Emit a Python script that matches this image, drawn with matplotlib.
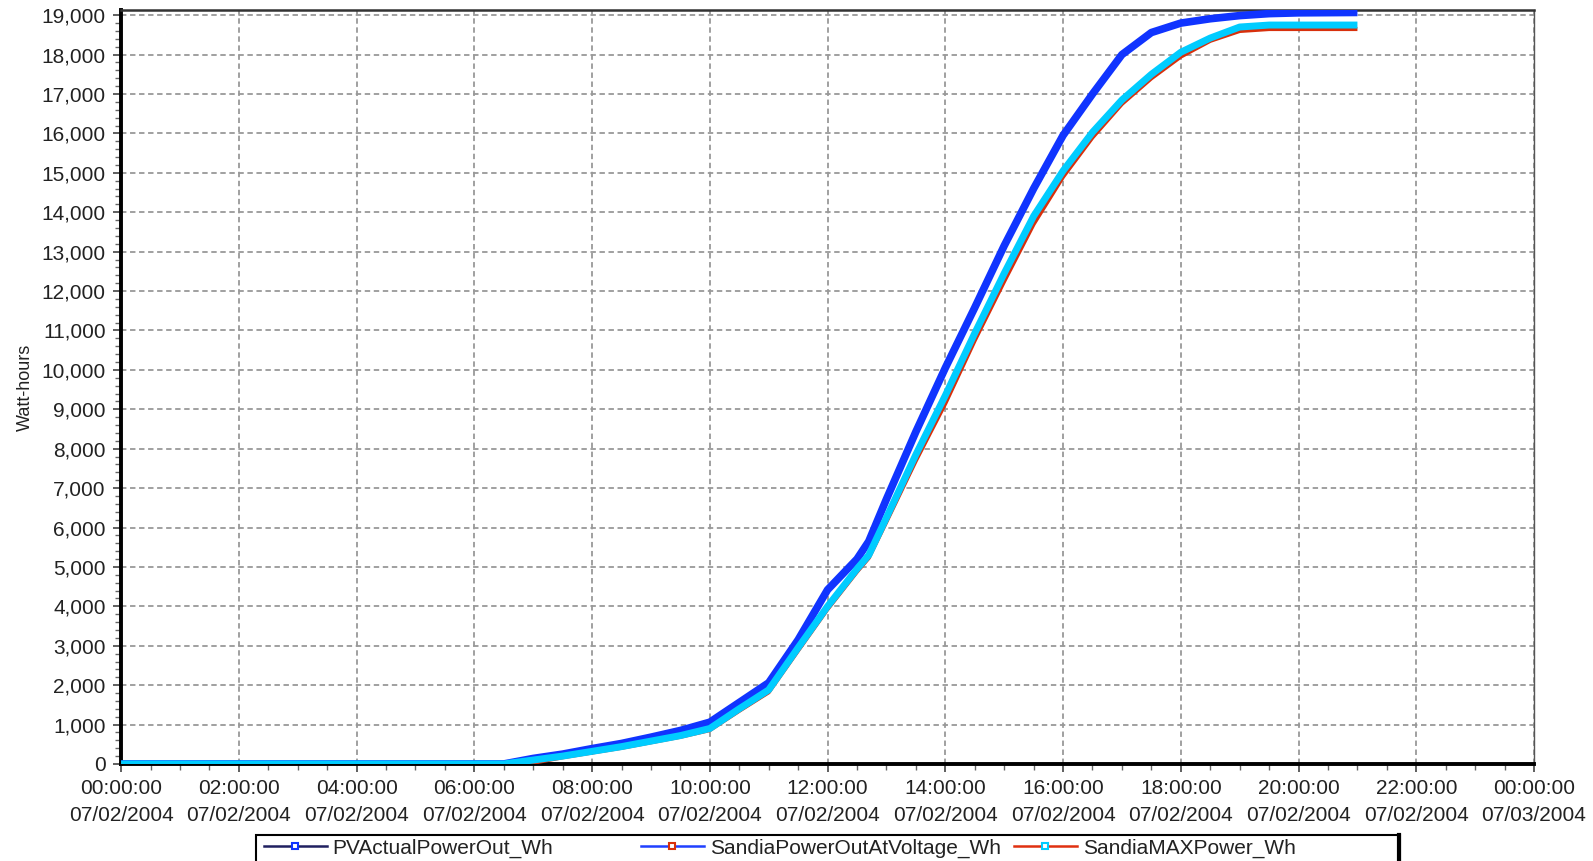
import datetime as dt
import matplotlib
matplotlib.use("Agg")
import matplotlib.pyplot as plt
import matplotlib.dates as mdates
from matplotlib.ticker import MultipleLocator, FuncFormatter
from matplotlib.lines import Line2D
from matplotlib.patches import Rectangle

plt.rcParams['font.family'] = ['Liberation Sans', 'DejaVu Sans']

# hours after midnight on 07/02/2004
hours = [0, 6.5, 7, 7.5, 8, 8.5, 9, 9.5, 10, 10.5, 11, 11.5, 12, 12.5, 12.7,
         13, 13.5, 14, 14.5, 15, 15.5, 16, 16.5, 17, 17.5, 18, 18.5, 19, 19.5, 20, 21]

pv_actual_wh = [0, 0, 140, 250, 390, 520, 680, 850, 1060, 1560, 2060, 3150, 4420, 5200, 5650,
                6720, 8430, 10050, 11580, 13150, 14600, 15950, 17000, 18000, 18560, 18800,
                18910, 18990, 19040, 19060, 19070]
sandia_max_wh = [0, 0, 100, 200, 320, 440, 580, 720, 900, 1400, 1880, 2950, 4000, 4950, 5300,
                 6250, 7850, 9350, 10930, 12450, 13900, 15050, 16030, 16850, 17500, 18060,
                 18420, 18700, 18750, 18750, 18750]
sandia_volt_wh = [0, 0, 30, 170, 290, 410, 550, 690, 860, 1350, 1820, 2880, 3930, 4880, 5230,
                  6150, 7700, 9150, 10750, 12250, 13700, 14900, 15900, 16750, 17400, 17950,
                  18350, 18600, 18650, 18650, 18650]

legend_labels = ['PVActualPowerOut_Wh', 'SandiaPowerOutAtVoltage_Wh', 'SandiaMAXPower_Wh']

day = dt.datetime(2004, 7, 2)
times = [day + dt.timedelta(hours=h) for h in hours]

fig = plt.figure(figsize=(15.93, 8.61), dpi=100)
ax = fig.add_axes([0.076, 0.1127, 0.887, 0.8756])

# curves
ax.plot(times, pv_actual_wh, color='#1034FF', lw=5.5, solid_capstyle='butt', zorder=3)
ax.plot(times, sandia_volt_wh, color='#D8300C', lw=3, solid_capstyle='butt', zorder=4)
ax.plot(times, sandia_max_wh, color='#00CCFF', lw=5, solid_capstyle='butt', zorder=5)

ax.set_xlim(day, day + dt.timedelta(hours=24))
ax.set_ylim(0, 19130)

ax.xaxis.set_major_locator(mdates.HourLocator(byhour=range(0, 24, 2)))
ax.xaxis.set_major_formatter(mdates.DateFormatter('%H:%M:%S\n%m/%d/%Y'))
ax.xaxis.set_minor_locator(mdates.MinuteLocator(byminute=[0, 30]))
ax.yaxis.set_major_locator(MultipleLocator(1000))
ax.yaxis.set_minor_locator(MultipleLocator(200))
ax.yaxis.set_major_formatter(FuncFormatter(lambda v, p: f'{v:,.0f}'))

ax.tick_params(which='major', direction='out', length=6, width=1.2, color='#444444',
               labelsize=15, labelcolor='#222222')
ax.tick_params(which='minor', direction='out', length=4, width=1.0, color='#666666')
ax.tick_params(axis='y', pad=5)
ax.tick_params(axis='x', pad=5)

ax.grid(True, which='major', color='#999999', lw=1.3, linestyle=(0, (3, 2)), zorder=1)
ax.set_axisbelow(True)

for side in ['left', 'bottom']:
    ax.spines[side].set_linewidth(2.8)
    ax.spines[side].set_color('black')
ax.spines['top'].set_linewidth(1.8)
ax.spines['top'].set_color('#333333')
ax.spines['right'].set_linewidth(1.0)
ax.spines['right'].set_color('#555555')

ax.set_ylabel('Watt-hours', fontsize=13, color='#222222')
ax.yaxis.set_label_coords(-0.062, 0.5)

# legend (line colours shifted, as in the source chart)
frame = Rectangle((256 / 1593, -0.02), (1400 - 256) / 1593, 0.02 + (861 - 835) / 861,
                  transform=fig.transFigure, fill=False, edgecolor='black', lw=1.5,
                  clip_on=False)
fig.patches.append(frame)
fig.add_artist(Line2D([1399 / 1593, 1399 / 1593], [0, 1 - 835 / 861],
                      transform=fig.transFigure, color='black', lw=3))

handle_specs = [('#202060', '#1034FF'), ('#2040FF', '#D8300C'), ('#E03010', '#00CCFF')]
col_x = [264 / 1593, 641 / 1593, 1014 / 1593]
for x0, label, (lc, mc) in zip(col_x, legend_labels, handle_specs):
    h = Line2D([], [], color=lc, lw=1.8, marker='s', markersize=4,
               markerfacecolor='white', markeredgecolor=mc, markeredgewidth=1.5)
    fig.legend([h], [label], loc='center left', bbox_to_anchor=(x0, 1 - 848 / 861),
               frameon=False, fontsize=15, handlelength=3.0, handletextpad=0.3,
               borderpad=0, borderaxespad=0, labelcolor='#222222')

fig.canvas.draw()
for lbl in ax.get_xticklabels():
    lbl.set_linespacing(1.55)

fig.savefig('out.png', dpi=100)
